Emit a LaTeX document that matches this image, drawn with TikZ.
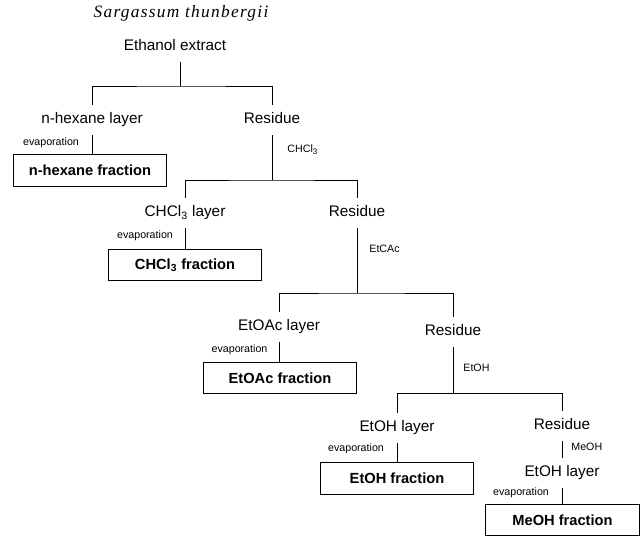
\documentclass[tikz,border=0pt]{standalone}
\usepackage{fontspec}
\setmainfont{Liberation Sans}
\newfontfamily\titlefont[LetterSpace=7.5]{Liberation Serif}

\begin{document}
\begin{tikzpicture}[x=0.75pt,y=-0.75pt,line width=0.6pt,
  layer/.style={font=\fontsize{11.5}{13}\selectfont,text height=8pt,text depth=2.5pt,inner sep=6pt},
  solvent/.style={font=\fontsize{8}{9}\selectfont,inner sep=0pt},
  fraction/.style={draw,font=\fontsize{11}{13}\selectfont\bfseries,minimum width=115pt,minimum height=23.5pt,inner sep=0pt}]
  \useasboundingbox (0,0) rectangle (641,536);
  %top
  \node[font=\titlefont\itshape\fontsize{13}{15}\selectfont] (title) at (181,13) {Sargassum thunbergii};
  \node[layer] (ext) at (175,47) {Ethanol extract};
  %n-hexane
  \coordinate (j1) at (180,86);
  \node[layer] (hexl) at (92,120) {n-hexane layer};
  \node[layer] (res1) at (272,120) {Residue};
  \node[solvent] (ev1) at (51,143) {evaporation};
  \node[fraction] (hexf) at (90,170.5) {n-hexane fraction};
  \draw (ext.south -| j1) -- (j1);
  \draw (hexl.north) |- (j1) -| (res1.north);
  \draw (hexl.south) -- (hexl.south |- hexf.north);
  %CHCl3
  \coordinate (j2) at (272,180);
  \node[solvent,anchor=west] (s1) at (287,150) {CHCl\textsubscript{3}};
  \node[layer] (chl) at (185,213) {CHCl\textsubscript{3} layer};
  \node[layer] (res2) at (357,213) {Residue};
  \node[solvent] (ev2) at (145,236) {evaporation};
  \node[fraction] (chf) at (185,265) {CHCl\textsubscript{3} fraction};
  \draw (res1.south) -- (j2);
  \draw (chl.north) |- (j2) -| (res2.north);
  \draw (chl.south) -- (chl.south |- chf.north);
  %EtOAc
  \coordinate (j3) at (357,293);
  \node[solvent,anchor=west] (s2) at (369,249) {EtCAc};
  \node[layer] (eal) at (279,327) {EtOAc layer};
  \node[layer] (res3) at (453,332) {Residue};
  \node[solvent] (ev3) at (239.5,350) {evaporation};
  \node[fraction] (eaf) at (280,378) {EtOAc fraction};
  \draw (res2.south) -- (j3);
  \draw (eal.north) |- (j3) -| (res3.north);
  \draw (eal.south) -- (eal.south |- eaf.north);
  %EtOH
  \coordinate (j4) at (453,393);
  \node[solvent,anchor=west] (s3) at (463,368) {EtOH};
  \node[layer] (ehl) at (397,428) {EtOH layer};
  \node[layer] (res4) at (562,426) {Residue};
  \node[solvent] (ev4) at (356,449) {evaporation};
  \node[fraction] (ehf) at (397,478.5) {EtOH fraction};
  \draw (res3.south) -- (j4);
  \draw (ehl.north) |- (j4) -| (res4.north);
  \draw (ehl.south) -- (ehl.south |- ehf.north);
  %MeOH
  \node[solvent,anchor=west] (s4) at (571,447) {MeOH};
  \node[layer] (ehl2) at (562,473) {EtOH layer};
  \node[solvent] (ev5) at (521,493) {evaporation};
  \node[fraction] (mef) at (562.5,520) {MeOH fraction};
  \draw (res4.south) -- (ehl2.north);
  \draw (ehl2.south) -- (ehl2.south |- mef.north);
\end{tikzpicture}
\end{document}
